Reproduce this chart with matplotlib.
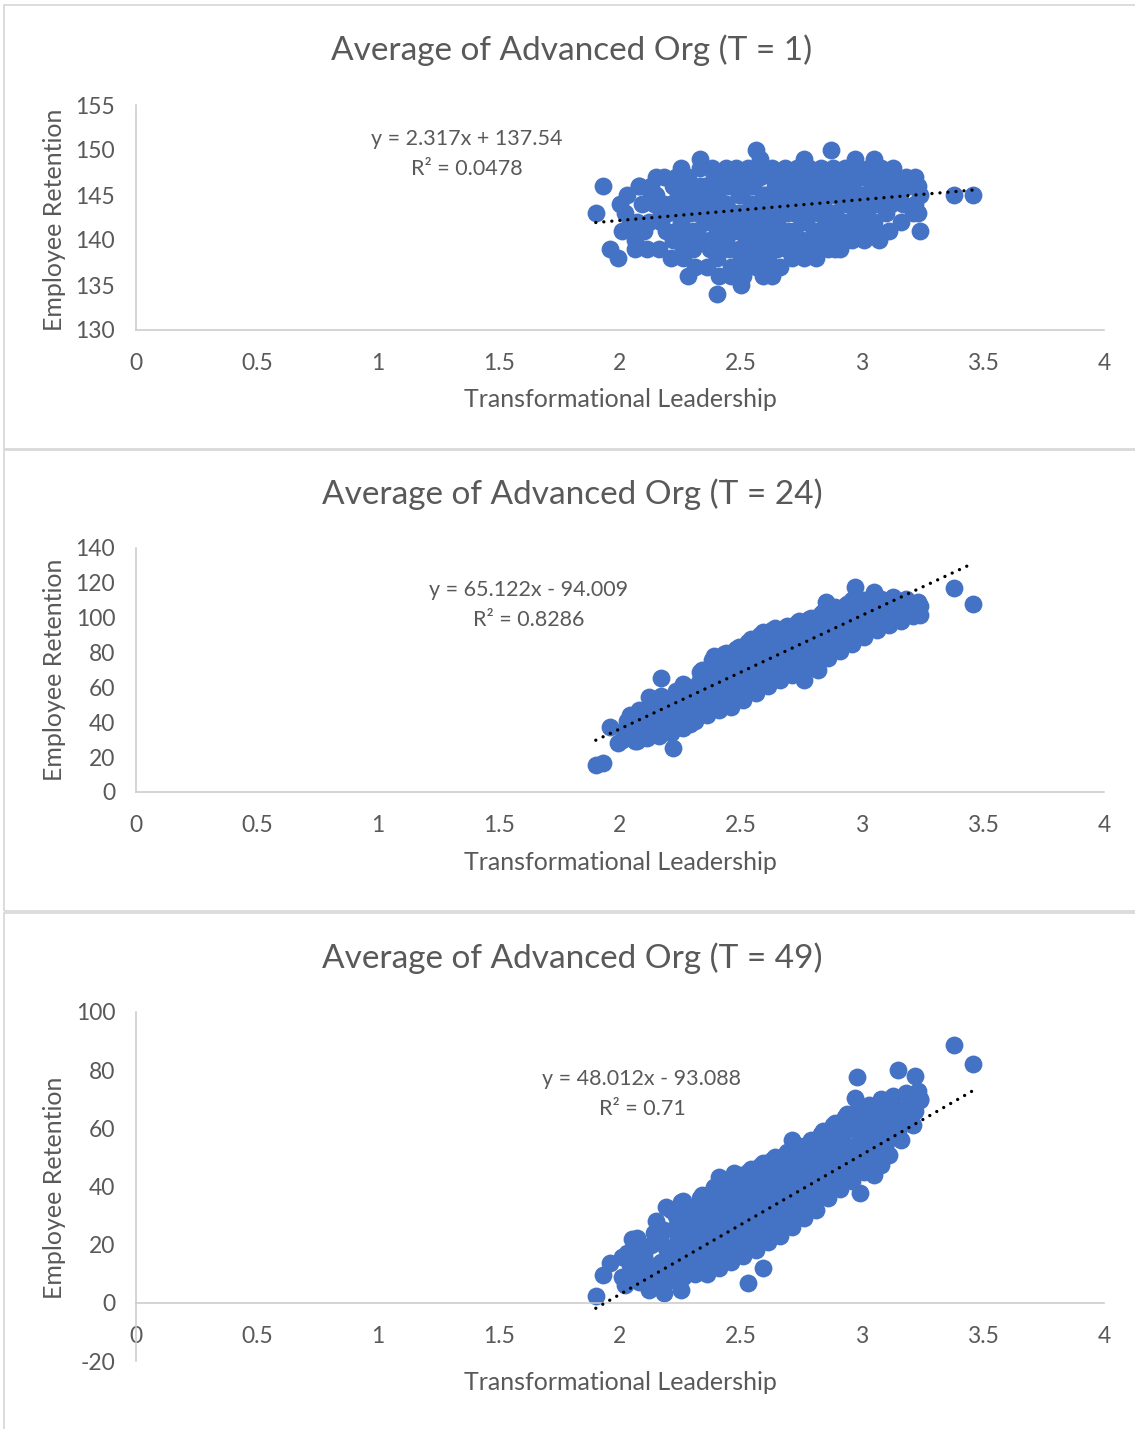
import matplotlib
matplotlib.use("Agg")
import matplotlib.pyplot as plt
from matplotlib.patches import Rectangle
import numpy as np


# shared leadership scores of the dense cloud (same people in all three charts)
x_core = [
    2.01, 2.03, 2.02, 2.04,
    2.06, 2.08, 2.07, 2.09, 2.05,
    2.11, 2.13, 2.12, 2.14, 2.10, 2.13,
    2.16, 2.18, 2.17, 2.19, 2.15, 2.18, 2.17,
    2.21, 2.23, 2.22, 2.24, 2.20, 2.23, 2.22, 2.21,
    2.26, 2.28, 2.27, 2.29, 2.25, 2.28, 2.27, 2.26, 2.29,
    2.31, 2.33, 2.32, 2.34, 2.30, 2.33, 2.32, 2.31, 2.34,
    2.36, 2.38, 2.37, 2.39, 2.35, 2.38, 2.37, 2.36, 2.39, 2.37,
    2.41, 2.43, 2.42, 2.44, 2.40, 2.43, 2.42, 2.41, 2.44, 2.42,
    2.46, 2.48, 2.47, 2.49, 2.45, 2.48, 2.47, 2.46, 2.49, 2.47,
    2.51, 2.53, 2.52, 2.54, 2.50, 2.53, 2.52, 2.51, 2.54, 2.52, 2.50,
    2.56, 2.58, 2.57, 2.59, 2.55, 2.58, 2.57, 2.56, 2.59, 2.57, 2.55,
    2.61, 2.63, 2.62, 2.64, 2.60, 2.63, 2.62, 2.61, 2.64, 2.62, 2.60,
    2.66, 2.68, 2.67, 2.69, 2.65, 2.68, 2.67, 2.66, 2.69, 2.67,
    2.71, 2.73, 2.72, 2.74, 2.70, 2.73, 2.72, 2.71, 2.74, 2.72,
    2.76, 2.78, 2.77, 2.79, 2.75, 2.78, 2.77, 2.76, 2.79, 2.77,
    2.81, 2.83, 2.82, 2.84, 2.80, 2.83, 2.82, 2.81, 2.84, 2.82,
    2.86, 2.88, 2.87, 2.89, 2.85, 2.88, 2.87, 2.86, 2.89,
    2.91, 2.93, 2.92, 2.94, 2.90, 2.93, 2.92, 2.91, 2.94,
    2.96, 2.98, 2.97, 2.99, 2.95, 2.98, 2.97, 2.96,
    3.01, 3.03, 3.02, 3.04, 3.00, 3.03, 3.02, 3.01,
    3.06, 3.08, 3.07, 3.09, 3.05, 3.08, 3.07,
    3.11, 3.13, 3.12, 3.14, 3.10, 3.13,
    3.16, 3.18, 3.17, 3.19, 3.15,
    3.21, 3.23, 3.22, 3.24,
]

# employee retention at T = 1
y1_core = [
    141, 145, 143, 142,
    140, 146, 142, 144, 141,
    139, 145, 142, 144, 141, 146,
    139, 147, 143, 141, 145, 144, 142,
    138, 147, 140, 145, 143, 141, 146, 144,
    138, 147, 141, 144, 140, 146, 143, 139, 145,
    137, 148, 141, 145, 139, 146, 143, 140, 144,
    137, 148, 140, 145, 142, 146, 139, 143, 147, 144,
    136, 147, 140, 144, 138, 146, 142, 139, 148, 143,
    137, 148, 141, 145, 139, 146, 143, 136, 147, 142,
    136, 148, 140, 144, 138, 146, 142, 137, 147, 143, 141,
    137, 149, 141, 145, 139, 147, 143, 138, 148, 144, 140,
    137, 148, 140, 145, 139, 147, 143, 138, 146, 142, 144,
    137, 148, 141, 145, 139, 147, 143, 140, 146, 144,
    138, 148, 141, 145, 139, 147, 143, 140, 146, 144,
    138, 148, 142, 145, 140, 147, 143, 139, 146, 144,
    138, 148, 141, 145, 140, 147, 143, 139, 146, 144,
    139, 148, 142, 145, 140, 147, 143, 141, 146,
    139, 148, 142, 145, 141, 147, 144, 140, 146,
    140, 148, 143, 145, 141, 147, 144, 146,
    140, 148, 143, 146, 142, 147, 144, 145,
    141, 148, 144, 146, 142, 147, 145,
    141, 147, 144, 146, 143, 145,
    142, 147, 144, 146, 145,
    143, 146, 144, 145,
]
# T = 1 points packed inside the cloud
x1_fill = [
    2.24, 2.25, 2.24, 2.25, 2.29, 2.30, 2.29, 2.30, 2.34, 2.35, 2.34, 2.35,
    2.39, 2.40, 2.39, 2.40, 2.44, 2.45, 2.44, 2.45, 2.49, 2.50, 2.49, 2.50,
    2.54, 2.55, 2.54, 2.55, 2.59, 2.60, 2.59, 2.60, 2.64, 2.65, 2.64, 2.65,
    2.69, 2.70, 2.69, 2.70, 2.74, 2.75, 2.74, 2.75, 2.79, 2.80, 2.79, 2.80,
    2.84, 2.85, 2.84, 2.85, 2.89, 2.90, 2.89, 2.90, 2.94, 2.95, 2.94, 2.95,
    2.99, 3.00, 2.99, 3.00, 3.04, 3.05, 3.04,
]
y1_fill = [
    140, 142, 144, 146, 139, 141, 143, 145, 140, 142, 144, 146,
    139, 141, 143, 145, 140, 142, 144, 146, 139, 141, 143, 145,
    140, 142, 144, 146, 139, 141, 143, 145, 140, 142, 144, 146,
    139, 141, 143, 145, 140, 142, 144, 146, 139, 141, 143, 145,
    140, 142, 144, 146, 139, 141, 143, 145, 140, 142, 144, 146,
    141, 143, 145, 147, 142, 144, 146,
]
x1_extra = [1.90, 1.93, 1.96, 1.99, 2.00, 2.06, 2.08, 2.15, 2.25, 2.28, 2.33, 2.40, 2.50, 2.56,
            2.59, 2.63, 2.76, 2.87, 2.97, 3.05, 3.07, 3.13, 3.22, 3.23, 3.24, 3.38, 3.46]
y1_extra = [143, 146, 139, 138, 144, 139, 146, 147, 148, 136, 149, 134, 135, 150,
            136, 136, 149, 150, 149, 149, 140, 148, 147, 143, 141, 145, 145]

# employee retention at T = 24
y2_core = [
    30, 41, 36, 44,
    33, 47, 29, 40, 37,
    31, 45, 38, 52, 35, 42,
    32, 47, 55, 39, 43, 36, 51,
    34, 58, 41, 50, 46, 37, 54, 44,
    37, 60, 45, 52, 41, 56, 48, 62, 39,
    41, 69, 52, 60, 46, 64, 56, 49, 70,
    44, 76, 55, 63, 49, 70, 59, 52, 78, 67,
    47, 79, 58, 66, 52, 73, 62, 55, 80, 69,
    49, 82, 60, 69, 54, 76, 65, 57, 83, 72,
    53, 86, 63, 72, 57, 80, 68, 60, 88, 76, 65,
    57, 90, 67, 76, 61, 84, 72, 64, 92, 80, 69,
    61, 93, 70, 79, 65, 87, 75, 67, 94, 83, 72,
    64, 94, 73, 82, 68, 89, 78, 70, 95, 85,
    67, 97, 76, 85, 71, 92, 81, 73, 98, 88,
    70, 99, 79, 88, 74, 95, 84, 76, 100, 91,
    73, 102, 82, 91, 77, 98, 87, 79, 103, 94,
    77, 105, 86, 94, 81, 100, 90, 83, 106,
    81, 107, 89, 97, 85, 103, 93, 87, 108,
    85, 109, 93, 100, 89, 105, 97, 110,
    89, 109, 96, 103, 92, 106, 99, 110,
    93, 110, 100, 105, 96, 111, 102,
    96, 111, 103, 107, 99, 112,
    98, 111, 104, 108, 101,
    101, 109, 104, 107,
]
x2_extra = [1.90, 1.93, 1.96, 1.99, 2.06, 2.12, 2.17, 2.22, 2.76, 2.82, 2.85, 2.97, 3.05, 3.24, 3.38, 3.46]
y2_extra = [15.5, 16.4, 37.5, 28, 29, 54.7, 65.6, 25.4, 64.3, 70, 109.2, 117.6, 114.9, 101.5, 117, 107.7]

# employee retention at T = 49
y3_core = [
    9, 17, 6, 13,
    11, 7, 19, 15, 22,
    8, 20, 13, 24, 16, 10,
    9, 25, 14, 19, 28, 7, 21,
    8, 30, 15, 22, 12, 26, 19, 32,
    9, 33, 17, 25, 13, 29, 21, 35, 11,
    10, 36, 20, 28, 15, 32, 24, 12, 37,
    10, 38, 21, 29, 14, 34, 25, 17, 40, 31,
    12, 41, 22, 31, 16, 36, 26, 19, 42, 33,
    14, 43, 24, 33, 18, 38, 28, 21, 44, 35,
    16, 45, 26, 34, 20, 40, 30, 22, 46, 37, 28,
    18, 47, 28, 36, 22, 42, 32, 24, 48, 39, 30,
    21, 49, 30, 38, 24, 44, 34, 27, 50, 41, 32,
    23, 51, 32, 40, 26, 46, 36, 29, 52, 43,
    26, 53, 34, 42, 29, 48, 38, 31, 54, 45,
    29, 55, 37, 45, 32, 50, 41, 34, 56, 47,
    32, 58, 40, 48, 35, 53, 44, 37, 59, 50,
    36, 61, 44, 51, 39, 56, 48, 41, 62,
    39, 64, 47, 54, 42, 59, 51, 44, 65,
    42, 66, 50, 57, 45, 62, 54, 47,
    45, 68, 53, 60, 48, 64, 57, 50,
    47, 70, 55, 62, 51, 66, 59,
    51, 71, 58, 64, 55, 68,
    56, 72, 62, 67, 59,
    61, 73, 66, 70,
]
x3_extra = [1.90, 1.93, 1.96, 2.01, 2.07, 2.12, 2.18, 2.19, 2.25, 2.25, 2.41, 2.47, 2.53,
            2.59, 2.71, 2.97, 2.98, 2.99, 3.05, 3.08, 3.15, 3.18, 3.22, 3.24, 3.38, 3.46]
y3_extra = [2.2, 9.6, 13.6, 15.9, 22.2, 4.5, 3.3, 33.1, 34.8, 4.5, 43.4, 44.8, 6.8,
            11.9, 56, 70.3, 77.8, 37.8, 44, 47.4, 80, 66.9, 78, 69.8, 88.7, 82]

titles = ["Average of Advanced Org (T = 1)",
          "Average of Advanced Org (T = 24)",
          "Average of Advanced Org (T = 49)"]
slopes = [2.317, 65.122, 48.012]
intercepts = [137.54, -94.009, -93.088]
eq_labels = ["y = 2.317x + 137.54", "y = 65.122x - 94.009", "y = 48.012x - 93.088"]
r2_labels = ["R² = 0.0478", "R² = 0.8286", "R² = 0.71"]
x_ticks = [0, 0.5, 1, 1.5, 2, 2.5, 3, 3.5, 4]
y_ticks = [[130, 135, 140, 145, 150, 155],
           [0, 20, 40, 60, 80, 100, 120, 140],
           [-20, 0, 20, 40, 60, 80, 100]]

W, H = 1135, 1429
BLUE = "#4472C4"
TXT = "#595959"
GRID = "#C9C9C9"


def fx(p):
    return p / W


def fy(p):
    return 1 - p / H


def main():
    plt.rcParams["font.family"] = ["Lato", "DejaVu Sans"]
    plt.rcParams["axes.unicode_minus"] = False
    fig = plt.figure(figsize=(W / 100, H / 100), dpi=100)

    # chart frames (pixel boxes: top, bottom)
    for top, bot in [(5, 449), (450, 911), (913, 1445)]:
        fig.add_artist(Rectangle((fx(4), fy(bot)), fx(1145) - fx(4), fy(top) - fy(bot),
                                 transform=fig.transFigure, fill=False,
                                 edgecolor="#D9D9D9", linewidth=1.3, clip_on=False))

    series = [
        (x_core + x1_fill + x1_extra, y1_core + y1_fill + y1_extra),
        (x_core + x2_extra, y2_core + y2_extra),
        (x_core + x3_extra, y3_core + y3_extra),
    ]
    # axes pixel extents: top, bottom, title y, x-label y, equation y, equation x, y-label y
    layout = [
        (105, 330, 50, 400, 139, 467, 220),
        (548, 792, 494, 862, 590, 529, 670),
        (1012, 1361, 958, 1382, 1079, 642, 1188),
    ]
    for i in range(3):
        top, bot, ty, xly, eqy, eqx, yly = layout[i]
        ax = fig.add_axes([fx(136), fy(bot), fx(1104) - fx(136), fy(top) - fy(bot)])
        x_all = np.array(series[i][0])
        y_all = np.array(series[i][1])
        ax.scatter(x_all, y_all, s=165, color=BLUE, linewidths=0, zorder=2)
        xl = np.array([x_all.min(), x_all.max()])
        ax.plot(xl, slopes[i] * xl + intercepts[i], color="black", linewidth=2.4,
                linestyle=(0, (0.01, 2.4)), dash_capstyle="round", zorder=3)

        ax.set_xlim(0, 4)
        ax.set_ylim(y_ticks[i][0], y_ticks[i][-1])
        ax.set_xticks(x_ticks)
        ax.set_xticklabels([f"{v:g}" for v in x_ticks])
        ax.set_yticks(y_ticks[i])
        ax.tick_params(length=0, labelsize=16.5, labelcolor=TXT, pad=15)
        ax.tick_params(axis="x", pad=16.5)
        for s in ["top", "right"]:
            ax.spines[s].set_visible(False)
        for s in ["left", "bottom"]:
            ax.spines[s].set_color(GRID)
            ax.spines[s].set_linewidth(1.1)
        if i == 2:
            ax.spines["bottom"].set_position(("data", 0))
        ax.patch.set_alpha(0)

        fig.text(fx(572), fy(ty), titles[i], ha="center", va="center", fontsize=24, color=TXT)
        fig.text(fx(620), fy(xly), "Transformational Leadership", ha="center", va="center",
                 fontsize=18, color=TXT)
        fig.text(fx(54), fy(yly), "Employee Retention", ha="center", va="center",
                 rotation=90, fontsize=18, color=TXT)
        fig.text(fx(eqx), fy(eqy), eq_labels[i], ha="center", va="center", fontsize=15.5, color=TXT)
        fig.text(fx(eqx), fy(eqy + 30), r2_labels[i], ha="center", va="center", fontsize=15.5, color=TXT)

    fig.savefig("out.png", dpi=100, facecolor="white")
    plt.close(fig)


if __name__ == "__main__":
    main()
